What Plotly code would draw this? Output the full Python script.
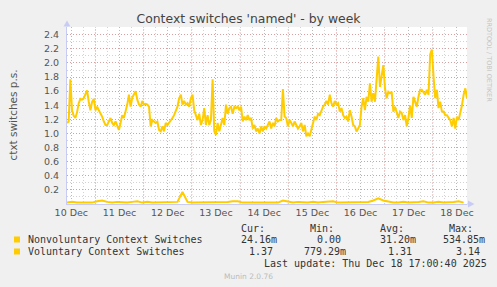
import datetime as dt
import plotly.graph_objects as go

# ---------------- data ----------------
START = dt.datetime(2025, 12, 10, 9, 50)
VOL_STEP_MIN = 50
NONVOL_STEP_MIN = 150

voluntary = [
    1.15, 1.17, 1.77, 1.33, 1.25, 1.22, 1.30, 1.43, 1.49, 1.48, 1.50, 1.57, 1.61, 1.45, 1.33,
    1.45, 1.49, 1.33, 1.38, 1.33, 1.29, 1.24, 1.17, 1.12, 1.12, 1.17, 1.22, 1.15, 1.12, 1.17,
    1.12, 1.05, 1.15, 1.26, 1.22, 1.31, 1.41, 1.55, 1.38, 1.51, 1.55, 1.60, 1.48, 1.41, 1.38,
    1.46, 1.41, 1.42, 1.41, 1.38, 1.10, 1.19, 1.17, 1.15, 1.17, 1.05, 1.03, 1.10, 1.03, 1.15,
    1.12, 1.15, 1.19, 1.22, 1.26, 1.33, 1.38, 1.50, 1.55, 1.41, 1.46, 1.41, 1.43, 1.38, 1.50,
    1.55, 1.33, 1.26, 1.19, 1.28, 1.12, 1.19, 1.36, 1.12, 1.26, 1.12, 1.19, 1.77, 1.03, 0.98,
    1.15, 1.03, 1.12, 1.22, 1.12, 1.41, 1.28, 1.36, 1.38, 1.28, 1.38, 1.36, 1.38, 1.33, 1.38,
    1.17, 1.24, 1.19, 1.26, 1.19, 1.22, 1.07, 1.12, 1.03, 1.07, 1.00, 1.10, 1.03, 1.10, 1.07,
    1.12, 1.17, 1.07, 1.15, 1.10, 1.22, 1.17, 1.19, 1.19, 1.63, 1.24, 1.22, 1.10, 1.19, 1.15,
    1.10, 1.17, 1.12, 1.07, 1.10, 1.15, 1.03, 1.12, 0.96, 1.00, 0.96, 1.05, 1.15, 1.24, 1.19,
    1.28, 1.26, 1.33, 1.38, 1.41, 1.46, 1.41, 1.55, 1.43, 1.38, 1.46, 1.41, 1.43, 1.31, 1.36,
    1.26, 1.22, 1.24, 1.17, 1.33, 1.24, 1.12, 1.10, 1.03, 1.07, 1.12, 1.38, 1.50, 1.33, 1.52,
    1.45, 1.71, 1.45, 1.57, 1.45, 1.76, 2.09, 1.66, 1.83, 1.97, 1.64, 1.50, 1.59, 1.57, 1.59,
    1.31, 1.38, 1.29, 1.22, 1.31, 1.29, 1.19, 1.26, 1.10, 1.22, 1.40, 1.22, 1.52, 1.45, 1.38,
    1.52, 1.62, 1.62, 1.59, 1.55, 1.62, 1.55, 2.12, 2.19, 1.81, 1.50, 1.62, 1.36, 1.45, 1.31,
    1.31, 1.26, 1.26, 1.22, 1.19, 1.10, 1.22, 1.07, 1.24, 1.19, 1.29, 1.40, 1.55, 1.64, 1.50,
]

nonvoluntary = [
    0.02, 0.03, 0.02, 0.02, 0.03, 0.02, 0.04, 0.05, 0.03, 0.02,
    0.03, 0.02, 0.02, 0.03, 0.04, 0.02, 0.03, 0.02, 0.02, 0.03,
    0.02, 0.02, 0.03, 0.17, 0.03, 0.02, 0.02, 0.03, 0.02, 0.02,
    0.03, 0.02, 0.03, 0.04, 0.04, 0.02, 0.02, 0.03, 0.02, 0.02,
    0.02, 0.03, 0.02, 0.05, 0.03, 0.02, 0.03, 0.02, 0.02, 0.03,
    0.02, 0.03, 0.04, 0.04, 0.02, 0.02, 0.03, 0.02, 0.02, 0.03,
    0.03, 0.05, 0.08, 0.05, 0.03, 0.02, 0.02, 0.03, 0.02, 0.02,
    0.03, 0.04, 0.02, 0.02, 0.03, 0.02, 0.02, 0.03, 0.04, 0.02,
]

day_labels = ["10 Dec", "11 Dec", "12 Dec", "13 Dec", "14 Dec",
              "15 Dec", "16 Dec", "17 Dec", "18 Dec"]
y_tick_vals = [0.2, 0.4, 0.6, 0.8, 1.0, 1.2, 1.4, 1.6, 1.8, 2.0, 2.2, 2.4]
y_tick_text = ["0.2", "0.4", "0.6", "0.8", "1.0", "1.2", "1.4", "1.6",
               "1.8", "2.0", "2.2", "2.4"]

series_names = ["Nonvoluntary Context Switches", "Voluntary Context Switches"]
stat_headers = ["Cur:", "Min:", "Avg:", "Max:"]
stats_nonvol = ["24.16m", "0.00", "31.20m", "534.85m"]
stats_vol = ["1.37", "779.29m", "1.31", "3.14"]
last_update = "Last update: Thu Dec 18 17:00:40 2025"

# ---------------- layout constants ----------------
W, H = 497, 287
L, T = 67, 27
PW, PH = 400, 177
R = W - L - PW
B = H - T - PH

X_END = dt.datetime(2025, 12, 18, 17, 0)
LINE_COL = "#FFCC00"
AXIS_COL = "#C8CCF4"


def px(x):
    return (x - L) / PW


def py(y):
    return (T + PH - y) / PH


vol_t = [START + dt.timedelta(minutes=VOL_STEP_MIN * i) for i in range(len(voluntary))]
nv_t = [START + dt.timedelta(minutes=NONVOL_STEP_MIN * i) for i in range(len(nonvoluntary))]

fig = go.Figure()
fig.add_trace(go.Scatter(x=nv_t, y=nonvoluntary, mode="lines", name=series_names[0],
                         line=dict(color=LINE_COL, width=2), showlegend=False))
fig.add_trace(go.Scatter(x=vol_t, y=voluntary, mode="lines", name=series_names[1],
                         line=dict(color=LINE_COL, width=2), showlegend=False))

first_day = dt.datetime(2025, 12, 10)
noon_ticks = [first_day + dt.timedelta(days=i, hours=12) for i in range(len(day_labels))]
midnights = [first_day + dt.timedelta(days=i + 1) for i in range(len(day_labels) - 1)]

GRID_GRAY = "rgba(150,150,150,0.42)"
GRID_RED = "rgba(220,90,90,0.42)"

fig.update_xaxes(
    type="date", range=[START, X_END],
    tickvals=noon_ticks, ticktext=day_labels,
    showgrid=True, gridcolor=GRID_GRAY, griddash="1px,2px", gridwidth=1,
    minor=dict(dtick=6 * 3600 * 1000, tick0="2025-12-10 00:00", showgrid=True,
               gridcolor=GRID_GRAY, griddash="1px,2px", gridwidth=1),
    ticks="", tickfont=dict(family="DejaVu Sans", size=9.5, color="#555555"),
    showline=True, linecolor=AXIS_COL, linewidth=1, zeroline=False,
    fixedrange=True,
)
fig.update_yaxes(
    range=[0, 2.51],
    tickvals=y_tick_vals, ticktext=y_tick_text,
    showgrid=True, gridcolor=GRID_RED, griddash="1px,2px", gridwidth=1,
    minor=dict(dtick=0.1, tick0=0, showgrid=True,
               gridcolor=GRID_GRAY, griddash="1px,2px", gridwidth=1),
    ticks="", tickfont=dict(family="DejaVu Sans", size=9.5, color="#555555"),
    ticklabelstandoff=5,
    showline=True, linecolor=AXIS_COL, linewidth=1, zeroline=False,
    fixedrange=True,
)

shapes = []
for m in midnights:
    shapes.append(dict(type="line", xref="x", yref="paper", x0=m, x1=m, y0=0, y1=1,
                       line=dict(color=GRID_RED, width=1, dash="1px,2px"), layer="between"))
# axis arrows
shapes.append(dict(type="path", xref="paper", yref="paper",
                   path=f"M {px(63.5)} {py(26.5)} L {px(70.5)} {py(26.5)} L {px(67)} {py(20.5)} Z",
                   fillcolor=AXIS_COL, line=dict(width=0), layer="above"))
shapes.append(dict(type="line", xref="paper", yref="paper", x0=px(67), x1=px(67),
                   y0=py(26.5), y1=1, line=dict(color=AXIS_COL, width=1)))
shapes.append(dict(type="path", xref="paper", yref="paper",
                   path=f"M {px(468)} {py(200.5)} L {px(468)} {py(207.5)} L {px(474.5)} {py(204)} Z",
                   fillcolor=AXIS_COL, line=dict(width=0), layer="above"))
shapes.append(dict(type="line", xref="paper", yref="paper", x0=1, x1=px(468),
                   y0=0, y1=0, line=dict(color=AXIS_COL, width=1)))
# legend swatches
for yc in (239.5, 251.5):
    shapes.append(dict(type="rect", xref="paper", yref="paper",
                       x0=px(14), x1=px(20), y0=py(yc + 3), y1=py(yc - 3),
                       fillcolor=LINE_COL, line=dict(width=0)))

MONO = dict(family="DejaVu Sans Mono", size=10, color="#333333")
ann = []


def text(x, y, s, font, xanchor="left", **kw):
    ann.append(dict(xref="paper", yref="paper", x=px(x), y=py(y), text=s,
                    showarrow=False, xanchor=xanchor, yanchor="middle", font=font, **kw))


for hx, h in zip([239, 308, 378, 447], stat_headers):
    text(hx, 228, h, MONO)
text(26, 239.5, series_names[0], MONO)
for vx, v in zip([239, 315, 378, 441], stats_nonvol):
    text(vx, 239.5, v, MONO)
text(26, 251.5, series_names[1], MONO)
for vx, v in zip([247, 302, 386, 454], stats_vol):
    text(vx, 251.5, v, MONO)
text(262, 263.5, last_update, MONO)
text(248, 276, "Munin 2.0.76", dict(family="DejaVu Sans", size=7.5, color="#BBBBBB"),
     xanchor="center")
text(12.5, 115, "ctxt switches p.s.", dict(family="DejaVu Sans", size=10.5, color="#555555"),
     xanchor="center", textangle=-90)
text(489, 60, "RRDTOOL / TOBI OETIKER", dict(family="DejaVu Sans", size=6.5, color="#C4C4C4"),
     xanchor="center", textangle=90)

fig.update_layout(
    width=W, height=H,
    margin=dict(l=L, r=R, t=T, b=B, pad=0),
    paper_bgcolor="#F0F0F0", plot_bgcolor="#FFFFFF",
    title=dict(text="Context switches 'named' - by week", x=0.5, xref="container",
               y=1 - 19 / H, yref="container", xanchor="center", yanchor="middle",
               font=dict(family="DejaVu Sans", size=12.4, color="#444444")),
    shapes=shapes, annotations=ann, showlegend=False,
)

fig.write_html("out.html", config={"displayModeBar": False})
